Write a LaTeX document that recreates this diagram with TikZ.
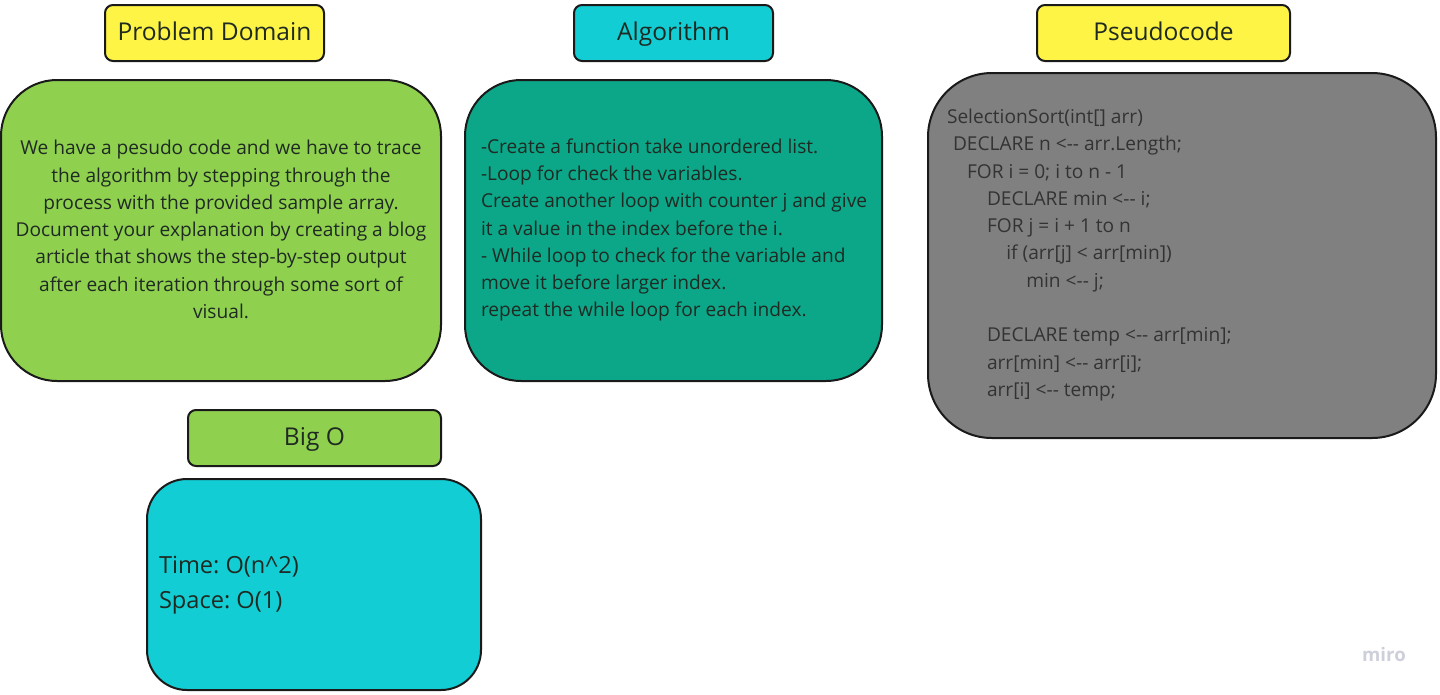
\documentclass[tikz,border=0pt]{standalone}
\usepackage{fontspec}
\setmainfont{Open Sans}
\frenchspacing
\definecolor{boardyellow}{HTML}{FEF445}
\definecolor{boardgreen}{HTML}{8FD14F}
\definecolor{boardcyan}{HTML}{12CDD4}
\definecolor{boardteal}{HTML}{0CA789}
\definecolor{boardgray}{HTML}{808080}
\definecolor{boardline}{HTML}{1A1A1A}
\definecolor{boardtext}{HTML}{1F2A22}
\definecolor{logogray}{HTML}{CDCFDA}

\tikzset{every picture/.style={line width=1.5pt}}
\tikzset{
  titletext/.style={inner sep=0pt, anchor=base, text=boardtext, font=\fontsize{18.4pt}{22pt}\selectfont},
  bodytext/.style={inner sep=0pt, text=boardtext, font=\fontsize{14.35pt}{20.45pt}\selectfont},
}

\begin{document}
\begin{tikzpicture}[x=0.75pt,y=0.75pt,yscale=-1,xscale=1]
\useasboundingbox (0,0) rectangle (1440,694);

%Rounded Rect Problem Domain title
\draw [draw=boardline, fill=boardyellow, rounded corners=6pt] (105,5) rectangle (324,61) ;
%Rounded Rect Problem Domain body
\draw [draw=boardline, fill=boardgreen, rounded corners=42pt] (1,80) rectangle (441,381) ;
%Rounded Rect Algorithm title
\draw [draw=boardline, fill=boardcyan, rounded corners=6pt] (574,5) rectangle (773,61) ;
%Rounded Rect Algorithm body
\draw [draw=boardline, fill=boardteal, rounded corners=42pt] (465,80) rectangle (882,381) ;
%Rounded Rect Pseudocode title
\draw [draw=boardline, fill=boardyellow, rounded corners=6pt] (1037,5) rectangle (1290,61) ;
%Rounded Rect Pseudocode body
\draw [draw=boardline, fill=boardgray, rounded corners=48pt] (928,73) rectangle (1436,438) ;
%Rounded Rect Big O title
\draw [draw=boardline, fill=boardgreen, rounded corners=6pt] (188,410) rectangle (441,466) ;
%Rounded Rect Big O body
\draw [draw=boardline, fill=boardcyan, rounded corners=30pt] (147,479) rectangle (481,690) ;

% Text Node
\draw (214.5,40) node [titletext] (domaintitle) {Problem Domain};
% Text Node
\draw (673.5,40) node [titletext] (algotitle) {Algorithm};
% Text Node
\draw (1163.5,40) node [titletext] (codetitle) {Pseudocode};
% Text Node
\draw (314.5,445) node [titletext] (bigotitle) {Big O};

% Text Node
\draw (221,229.5) node [bodytext, align=center] (domainbody) {We have a pesudo code and we have to trace\\the algorithm by stepping through the\\process with the provided sample array.\\Document your explanation by creating a blog\\article that shows the step-by-step output\\after each iteration through some sort of\\visual.};
% Text Node
\draw (480,230) node [bodytext, align=left, anchor=west] (algobody) {-Create a function take unordered list.\\-Loop for check the variables.\\Create another loop with counter j and give\\it a value in the index before the i.\\- While loop to check for the variable and\\move it before larger index.\\repeat the while loop for each index.};
% Text Node
\draw (946,255) node [bodytext, align=left, anchor=west, text=black!80] (codebody) {SelectionSort(int[] arr)\\
\hspace*{4.5pt}DECLARE n <-{}- arr.Length;\\
\hspace*{15pt}FOR i = 0; i to n - 1\\
\hspace*{30pt}DECLARE min <-{}- i;\\
\hspace*{30pt}FOR j = i + 1 to n\\
\hspace*{44.5pt}if (arr[j] < arr[min])\\
\hspace*{59.5pt}min <-{}- j;\\
\mbox{}\\
\hspace*{30pt}DECLARE temp <-{}- arr[min];\\
\hspace*{30pt}arr[min] <-{}- arr[i];\\
\hspace*{30pt}arr[i] <-{}- temp;};
% Text Node
\draw (158,585.5) node [inner sep=0pt, text=boardtext, align=left, anchor=west, font=\fontsize{17.7pt}{26.25pt}\selectfont] (bigobody) {Time: O(n\^{}2)\\Space: O(1)};

% Text Node
\draw (1384,654) node [inner sep=0pt, text=logogray, font=\fontsize{14pt}{16pt}\selectfont\bfseries] (mirologo) {miro};

\end{tikzpicture}
\end{document}
